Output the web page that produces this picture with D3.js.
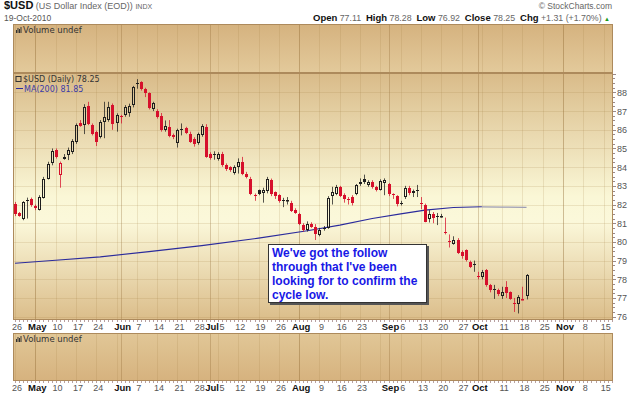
<!DOCTYPE html>
<html>
<head>
<meta charset="utf-8">
<script src="https://cdn.jsdelivr.net/npm/d3@7"></script>
<style>
  body { margin: 0; background: #fff; }
  svg { display: block; font-family: "Liberation Sans", Arial, sans-serif; }
</style>
</head>
<body>
<div id="chart"></div>
<script>
const width = 640;
const height = 396;

// daily candles, Apr 26 2010 .. Oct 19 2010 (one per weekday)
const startDate = new Date(2010, 3, 26);
const prevClose = 82.1;
const opens = [82.05,81.55,81.2,82.26,82.27,81.93,81.73,82.37,83.39,84.2,84.91,83.57,84.57,84.67,84.79,85.36,86.37,86.25,87.27,86.25,
  85.89,85.59,86.43,86.52,87.32,86.34,86.72,86.79,86.9,87.32,88.5,88.57,88.16,87.95,87.09,87.0,86.73,85.98,86.16,85.7,
  85.3,86.05,86.09,85.8,85.5,85.3,85.71,86.16,84.73,84.68,84.42,84.73,84.11,84.0,83.7,84.02,84.29,83.66,83.39,82.52,
  82.77,82.63,82.7,83.3,82.66,82.5,82.25,82.22,82.1,81.7,81.52,80.9,80.62,80.98,80.8,80.35,80.72,80.75,82.45,82.55,
  82.95,82.52,82.32,82.4,82.55,83.22,83.38,83.05,83.2,82.95,82.8,83.15,83.1,82.56,82.45,82.1,82.4,82.9,82.6,82.8,
  82.1,82.0,81.2,81.5,81.4,81.33,80.55,80.05,79.9,80.09,79.45,79.55,78.95,78.8,78.2,78.1,78.48,77.7,77.5,77.45,
  77.1,77.6,77.32,76.75,76.7,76.9,77.11];
const highs = [82.14,81.6,82.18,82.37,82.37,82.0,82.5,83.48,84.29,85.0,85.0,84.3,84.7,85.05,85.5,86.34,86.52,87.37,87.5,86.34,
  85.95,86.52,87.5,87.5,87.41,86.88,86.8,87.32,87.4,88.35,88.71,88.6,88.25,88.0,87.5,87.1,86.9,86.5,86.52,85.8,
  86.06,86.34,86.16,85.9,85.6,85.85,86.3,86.3,84.8,84.85,84.8,84.82,84.2,84.05,84.1,84.47,84.55,83.75,83.48,82.59,
  82.8,82.9,83.48,83.39,82.7,82.55,82.36,82.4,82.2,81.8,81.55,81.0,81.1,81.05,80.95,80.75,80.85,82.45,82.95,83.05,
  83.0,82.6,82.4,82.5,83.1,83.4,83.6,83.3,83.3,83.0,83.35,83.4,83.15,82.6,82.5,82.2,83.0,83.0,82.8,83.05,
  82.4,82.05,81.7,81.6,81.55,81.5,81.3,80.4,80.3,80.2,79.55,79.6,79.0,79.0,78.4,78.5,78.55,77.75,77.7,77.5,
  77.6,77.9,77.35,77.0,77.15,77.6,78.28];
const lows = [81.38,81.35,81.16,81.25,81.88,81.7,81.68,82.32,83.34,84.1,84.46,82.9,84.4,84.38,84.7,85.25,86.16,85.77,86.25,85.7,
  85.13,85.54,85.55,86.43,86.0,85.9,86.34,86.7,86.7,87.2,88.2,88.1,87.75,87.09,87.0,86.6,85.9,85.9,85.6,85.5,
  85.05,85.7,85.77,85.3,85.1,85.2,85.63,84.5,84.4,84.4,84.35,84.02,83.8,83.75,83.6,83.66,83.57,83.4,82.5,82.2,
  82.5,82.1,82.6,82.45,82.3,82.1,81.86,82.0,81.6,81.5,80.9,80.55,80.55,80.75,80.1,80.3,80.6,80.7,82.0,82.5,
  82.4,82.1,82.0,81.95,82.5,83.0,83.1,82.95,82.85,82.7,82.75,82.5,82.45,82.3,81.9,81.95,82.3,82.5,82.4,82.4,
  81.75,81.05,81.04,81.0,80.9,81.3,80.4,79.7,79.85,79.35,79.1,78.95,78.6,78.4,78.0,78.0,77.6,77.3,76.95,77.1,
  76.95,77.0,76.9,76.25,76.17,76.88,76.92];
const closes = [81.48,81.41,82.14,82.23,81.96,81.84,82.41,83.36,84.16,84.88,84.55,84.2,84.45,84.9,85.41,86.25,86.23,87.23,86.3,85.77,
  85.36,86.43,86.66,87.2,86.3,86.79,86.66,87.23,87.25,88.3,88.45,88.21,87.95,87.14,87.45,86.66,85.98,86.2,85.66,85.59,
  85.98,86.0,85.84,85.36,85.25,85.77,86.2,84.55,84.5,84.64,84.73,84.11,83.88,83.84,84.02,84.29,83.66,83.45,82.55,82.47,
  82.57,82.77,83.39,82.59,82.48,82.18,82.23,82.26,81.66,81.57,80.95,80.62,80.95,80.82,80.43,80.65,80.7,82.35,82.66,82.95,
  82.48,82.27,82.23,82.1,83.04,83.1,83.2,83.22,82.95,82.8,83.27,83.3,82.55,82.52,82.05,82.08,82.9,82.63,82.75,82.77,
  82.02,81.07,81.5,81.27,81.37,81.38,80.5,80.0,80.08,79.41,79.27,79.02,78.66,78.75,78.1,78.4,77.7,77.4,77.45,77.2,
  77.3,77.28,76.96,76.7,77.05,76.94,78.25];

// 200 day moving average, read at a few points
const maIdx = [0, 10, 21, 33, 46, 60, 72, 80, 88, 95, 101, 108, 115, 120, 126];
const maVals = [78.86, 79.02, 79.2, 79.48, 79.8, 80.2, 80.6, 80.9, 81.25, 81.5, 81.7, 81.84, 81.88, 81.86, 81.85];

// x axis labels
const tickDates = ["2010-04-26","2010-05-03","2010-05-10","2010-05-17","2010-05-24","2010-06-01","2010-06-07","2010-06-14",
  "2010-06-21","2010-06-28","2010-07-01","2010-07-05","2010-07-12","2010-07-19","2010-07-26","2010-08-02","2010-08-09",
  "2010-08-16","2010-08-23","2010-09-01","2010-09-06","2010-09-13","2010-09-20","2010-09-27","2010-10-01","2010-10-11",
  "2010-10-18","2010-10-25","2010-11-01","2010-11-08","2010-11-15"];
const tickLabels = ["26","May","10","17","24","Jun","7","14","21","28","Jul","5","12","19","26","Aug","9","16","23",
  "Sep","6","13","20","27","Oct","11","18","25","Nov","8","15"];
const yTicks = [76, 77, 78, 79, 80, 81, 82, 83, 84, 85, 86, 87, 88];

const left = 13, right = 613;
const vol1 = { top: 24, bottom: 73 };
const main = { top: 73, bottom: 320 };
const vol2 = { top: 333, bottom: 381 };

const parse = d3.timeParse("%Y-%m-%d");
function dayIndex(d) {
  const n = d3.timeDay.count(startDate, d);
  return Math.floor(n / 7) * 5 + Math.min(n % 7, 5);
}

const x = d3.scaleLinear().domain([-0.5, 147.3]).range([left, right]);
const y = d3.scaleLinear().domain([75.82, 89.04]).range([main.bottom, main.top]);
const px = (i) => Math.round(x(i)) + 0.5;

const svg = d3.select("#chart").append("svg")
  .attr("width", width).attr("height", height)
  .attr("viewBox", `0 0 ${width} ${height}`);

const defs = svg.append("defs");
function grad(id, stops) {
  const g = defs.append("linearGradient").attr("id", id).attr("x1", 0).attr("x2", 0).attr("y1", 0).attr("y2", 1);
  stops.forEach(([o, c]) => g.append("stop").attr("offset", o).attr("stop-color", c));
}
grad("gMain", [[0, "#d9bb89"], [0.5, "#faf7d6"], [0.6, "#fbf8da"], [1, "#dbbd8a"]]);
grad("gVol1", [[0, "#d5b27f"], [1, "#e3ca9b"]]);
grad("gVol2", [[0, "#e1c797"], [1, "#d6b27e"]]);

// panels
function panel(p, fill) {
  svg.append("rect").attr("x", left).attr("y", p.top).attr("width", right - left).attr("height", p.bottom - p.top)
    .attr("fill", `url(#${fill})`);
}
panel(vol1, "gVol1");
panel(main, "gMain");
panel(vol2, "gVol2");

// vertical grid: every monday + month starts
const tickIdx = tickDates.map((s) => dayIndex(parse(s)));
const mondays = d3.range(0, 148, 5);
const monthIdx = tickIdx.filter((d, k) => isNaN(+tickLabels[k]));
[vol1, main, vol2].forEach((p) => {
  const g = svg.append("g");
  g.selectAll("line.w").data(mondays).join("line")
    .attr("x1", px).attr("x2", px).attr("y1", p.top).attr("y2", p.bottom)
    .attr("stroke", "#a07a40").attr("stroke-opacity", 0.17);
  g.selectAll("line.m").data(monthIdx).join("line")
    .attr("x1", px).attr("x2", px).attr("y1", p.top).attr("y2", p.bottom)
    .attr("stroke", "#8a6530").attr("stroke-opacity", 0.3);
});

// horizontal grid
svg.append("g").selectAll("line").data(yTicks).join("line")
  .attr("x1", left).attr("x2", right)
  .attr("y1", (d) => Math.round(y(d)) + 0.5).attr("y2", (d) => Math.round(y(d)) + 0.5)
  .attr("stroke", "#a07a40").attr("stroke-opacity", 0.17);

// MA(200)
const maPts = maIdx.map((d, k) => [d, maVals[k]]);
const line = d3.line().x((d) => x(d[0])).y((d) => y(d[1]));
svg.append("path").attr("d", line(maPts.filter((d) => d[0] <= 115)))
  .attr("fill", "none").attr("stroke", "#2b2b9c").attr("stroke-width", 1.1);
svg.append("path").attr("d", line(maPts.filter((d) => d[0] >= 115)))
  .attr("fill", "none").attr("stroke", "#9c9cb4").attr("stroke-width", 1.3);

// candles
const red = "#d6102c", black = "#1e1e1e";
const rows = opens.map((o, i) => ({
  i, o, h: highs[i], l: lows[i], c: closes[i], p: i ? closes[i - 1] : prevClose,
}));
const cg = svg.append("g");
rows.forEach((d) => {
  const col = d.c >= d.p ? black : red;
  const cx = px(d.i);
  const top = Math.round(y(Math.max(d.o, d.c)));
  const bot = Math.max(Math.round(y(Math.min(d.o, d.c))), top + 1);
  cg.append("line").attr("x1", cx).attr("x2", cx).attr("y1", y(d.h)).attr("y2", top)
    .attr("stroke", col).attr("stroke-opacity", 0.75);
  cg.append("line").attr("x1", cx).attr("x2", cx).attr("y1", bot).attr("y2", y(d.l))
    .attr("stroke", col).attr("stroke-opacity", 0.75);
  if (d.c < d.o) {
    cg.append("rect").attr("x", cx - 1.5).attr("y", top).attr("width", 3).attr("height", bot - top).attr("fill", col);
  } else {
    cg.append("rect").attr("x", cx - 1).attr("y", top + 0.5).attr("width", 2).attr("height", Math.max(bot - top - 1, 0.5))
      .attr("fill", "none").attr("stroke", col);
  }
});

// panel frames
[vol1, main, vol2].forEach((p) => {
  svg.append("rect").attr("x", left + 0.5).attr("y", p.top + 0.5).attr("width", right - left - 1)
    .attr("height", p.bottom - p.top - 1).attr("fill", "none").attr("stroke", "#ad8a5c");
});

// right axis
const ya = svg.append("g");
ya.selectAll("line").data(d3.range(76, 89.01, 0.25)).join("line")
  .attr("x1", right).attr("x2", (d) => right + (d % 1 === 0 ? 3 : 2))
  .attr("y1", (d) => Math.round(y(d)) + 0.5).attr("y2", (d) => Math.round(y(d)) + 0.5)
  .attr("stroke", "#9a8a8a");
ya.selectAll("text").data(yTicks).join("text")
  .attr("x", right + 4).attr("y", (d) => y(d) + 3.5)
  .attr("font-size", 9).attr("fill", "#555").text((d) => d);

// x axes (two rows)
[main.bottom, vol2.bottom].forEach((yb) => {
  svg.append("g").selectAll("line").data(d3.range(0, 148)).join("line")
    .attr("x1", px).attr("x2", px).attr("y1", yb).attr("y2", yb + 2)
    .attr("stroke", "#b8a0a0");
  const labels = svg.append("g").selectAll("text").data(tickLabels).join("text")
    .attr("x", (d, k) => x(tickIdx[k]) + 2)
    .attr("y", yb + 10)
    .attr("text-anchor", "middle")
    .attr("font-size", (d) => (isNaN(+d) ? 9.5 : 9))
    .attr("font-weight", (d) => (isNaN(+d) ? "bold" : "normal"))
    .attr("fill", (d) => (isNaN(+d) ? "#111" : "#555"))
    .text((d) => d);
  // nudge labels that would run into the previous one
  let prevRight = -Infinity;
  labels.each(function () {
    const w = this.getComputedTextLength();
    let cx = +this.getAttribute("x");
    if (cx - w / 2 < prevRight + 0.5) cx = prevRight + 0.5 + w / 2;
    this.setAttribute("x", cx);
    prevRight = cx + w / 2;
  });
});

// volume labels
function volLabel(yy) {
  const g = svg.append("g").attr("transform", `translate(16,${yy})`);
  [[0, 3], [1.5, 5], [3, 4], [4.5, 6]].forEach(([dx, hh]) =>
    g.append("rect").attr("x", dx).attr("y", -hh).attr("width", 1).attr("height", hh).attr("fill", "#333"));
  g.append("text").attr("x", 7).attr("y", 0).attr("font-family", "DejaVu Sans")
    .attr("font-size", 8.5).attr("fill", "#333").text("Volume undef");
}
volLabel(vol1.top + 9);
volLabel(vol2.top + 9);

// legend
const lg = svg.append("g");
lg.append("rect").attr("x", 16).attr("y", 76.5).attr("width", 5).attr("height", 5).attr("fill", "none").attr("stroke", "#333");
lg.append("text").attr("x", 23).attr("y", 81.5).attr("font-family", "DejaVu Sans").attr("font-size", 8)
  .attr("fill", "#333").text(`$USD (Daily) ${closes[closes.length - 1].toFixed(2)}`);
lg.append("line").attr("x1", 16).attr("x2", 23).attr("y1", 88.5).attr("y2", 88.5).attr("stroke", "#2b2b9c");
lg.append("text").attr("x", 24).attr("y", 91.5).attr("font-family", "DejaVu Sans").attr("font-size", 8)
  .attr("fill", "#3a3aa8").text(`MA(200) ${maVals[maVals.length - 1].toFixed(2)}`);

// header
const h1 = svg.append("text").attr("x", 4).attr("y", 9).style("white-space", "pre");
h1.append("tspan").attr("font-weight", "bold").attr("font-size", 11).attr("fill", "#111").text("$USD");
h1.append("tspan").attr("font-size", 9).attr("fill", "#666").text(" (US Dollar Index (EOD)) ");
h1.append("tspan").attr("font-size", 7).attr("fill", "#666").text("INDX");
svg.append("text").attr("x", 4).attr("y", 21).attr("font-size", 8.5).attr("fill", "#555").text("19-Oct-2010");
svg.append("text").attr("x", 612).attr("y", 9).attr("text-anchor", "end").attr("font-size", 8.5)
  .attr("fill", "#666").text("© StockCharts.com");

const last = rows[rows.length - 1];
const chg = last.c - last.p;
const parts = [["Open", true], [` ${last.o.toFixed(2)}  `, false], ["High", true], [` ${last.h.toFixed(2)}  `, false],
  ["Low", true], [` ${last.l.toFixed(2)}  `, false], ["Close", true], [` ${last.c.toFixed(2)}  `, false],
  ["Chg", true], [` +${chg.toFixed(2)} (+${(chg / last.p * 100).toFixed(2)}%) `, false]];
const h2 = svg.append("text").attr("x", 610).attr("y", 21).attr("text-anchor", "end").style("white-space", "pre");
parts.forEach(([t, b]) => h2.append("tspan").attr("font-size", b ? 9.5 : 8.8).attr("font-weight", b ? "bold" : "normal")
  .attr("fill", b ? "#111" : "#666").text(t));
h2.append("tspan").attr("font-size", 6).attr("fill", "#1a9a1a").text("▲");

// annotation
const note = ["We've got the follow", "through that I've been", "looking for to confirm the", "cycle low."];
const ng = svg.append("g").attr("transform", "translate(268,244)");
ng.append("rect").attr("x", 2).attr("y", 2).attr("width", 159).attr("height", 59).attr("fill", "#555");
ng.append("rect").attr("x", 0.5).attr("y", 0.5).attr("width", 158).attr("height", 58).attr("fill", "#fff").attr("stroke", "#333");
ng.selectAll("text").data(note).join("text")
  .attr("x", 4).attr("y", (d, k) => 12.5 + k * 14.3)
  .attr("font-size", 12).attr("font-weight", "bold").attr("fill", "#1818e6").text((d) => d);
</script>
</body>
</html>
